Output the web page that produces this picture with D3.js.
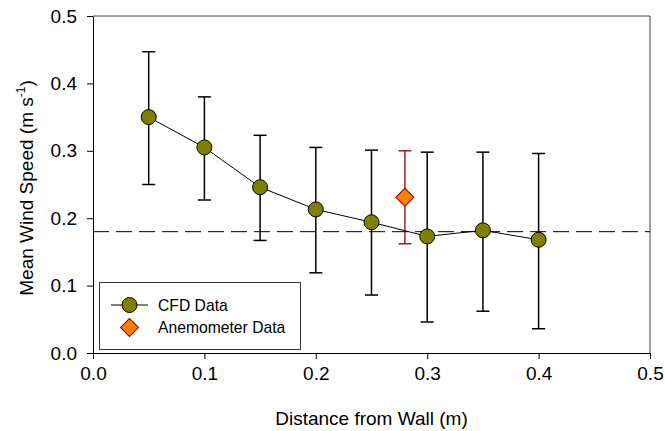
<!DOCTYPE html>
<html>
<head>
<meta charset="utf-8">
<script src="https://cdn.jsdelivr.net/npm/d3@7"></script>
<style>
  body { margin: 0; background: #fff; }
  text { font-family: "Liberation Sans", Arial, sans-serif; fill: #000; }
</style>
</head>
<body>
<div id="chart"></div>
<script>
// data
let arrDist = [0.05, 0.10, 0.15, 0.20, 0.25, 0.30, 0.35, 0.40];
let arrCfdMean = [0.350, 0.305, 0.246, 0.213, 0.194, 0.173, 0.182, 0.168];
let arrCfdHi = [0.447, 0.380, 0.323, 0.305, 0.301, 0.298, 0.298, 0.296];
let arrCfdLo = [0.250, 0.227, 0.167, 0.119, 0.086, 0.046, 0.062, 0.036];

let arrAnemDist = [0.28];
let arrAnemMean = [0.231];
let arrAnemHi = [0.300];
let arrAnemLo = [0.162];

let refLine = 0.18;

let arrXTicks = [0.0, 0.1, 0.2, 0.3, 0.4, 0.5];
let arrYTicks = [0.0, 0.1, 0.2, 0.3, 0.4, 0.5];
let arrLegend = ["CFD Data", "Anemometer Data"];

// SVG size
let width = 665;
let height = 431;

let margin = { top: 16, right: 15, bottom: 78, left: 93 };
let intActiveWid = width - margin.left - margin.right;
let intActiveHgt = height - margin.top - margin.bottom;

let svg = d3.select("#chart")
  .append("svg")
  .attr("width", width)
  .attr("height", height);

let g = svg.append("g")
  .attr("transform", `translate(${margin.left}, ${margin.top})`);

// scales
let fnX = d3.scaleLinear().domain([0, 0.5]).range([0, intActiveWid]);
let fnY = d3.scaleLinear().domain([0, 0.5]).range([intActiveHgt, 0]);

// frame (top and right)
g.append("path")
  .attr("d", `M0,0H${intActiveWid}V${intActiveHgt}`)
  .attr("fill", "none")
  .attr("stroke", "#444")
  .attr("stroke-width", 1);

// axes
let fnXAxis = d3.axisBottom(fnX).tickValues(arrXTicks).tickFormat(d3.format(".1f"))
  .tickSizeInner(6).tickSizeOuter(0).tickPadding(8);
let fnYAxis = d3.axisLeft(fnY).tickValues(arrYTicks).tickFormat(d3.format(".1f"))
  .tickSizeInner(6).tickSizeOuter(0).tickPadding(10);

let gX = g.append("g")
  .attr("transform", `translate(0, ${intActiveHgt})`)
  .call(fnXAxis);
let gY = g.append("g").call(fnYAxis);

[gX, gY].forEach(ax=>{
  ax.selectAll("text").attr("font-size", 19).attr("font-family", null);
  ax.selectAll("line, path").attr("stroke", "#000");
});

// dashed reference line
g.append("line")
  .attr("x1", 0)
  .attr("x2", intActiveWid)
  .attr("y1", fnY(refLine))
  .attr("y2", fnY(refLine))
  .attr("stroke", "#000")
  .attr("stroke-width", 1)
  .attr("stroke-dasharray", "16,7");

// build point objects
let arrCfd = arrDist.map((d, i)=>({ x: d, y: arrCfdMean[i], hi: arrCfdHi[i], lo: arrCfdLo[i] }));
let arrAnem = arrAnemDist.map((d, i)=>({ x: d, y: arrAnemMean[i], hi: arrAnemHi[i], lo: arrAnemLo[i] }));

// error bars with caps
function drawErr(data, color, w) {
  let gErr = g.append("g").attr("stroke", color).attr("stroke-width", w).attr("fill", "none");
  gErr.selectAll(".v").data(data).enter().append("line")
    .attr("x1", d=>fnX(d.x)).attr("x2", d=>fnX(d.x))
    .attr("y1", d=>fnY(d.hi)).attr("y2", d=>fnY(d.lo));
  gErr.selectAll(".ct").data(data).enter().append("line")
    .attr("x1", d=>fnX(d.x) - 6.5).attr("x2", d=>fnX(d.x) + 6.5)
    .attr("y1", d=>fnY(d.hi)).attr("y2", d=>fnY(d.hi));
  gErr.selectAll(".cb").data(data).enter().append("line")
    .attr("x1", d=>fnX(d.x) - 6.5).attr("x2", d=>fnX(d.x) + 6.5)
    .attr("y1", d=>fnY(d.lo)).attr("y2", d=>fnY(d.lo));
}

drawErr(arrCfd, "#000", 1.5);
drawErr(arrAnem, "#8b0000", 1.3);

// cfd line
g.append("path")
  .datum(arrCfd)
  .attr("d", d3.line().x(d=>fnX(d.x)).y(d=>fnY(d.y)))
  .attr("fill", "none")
  .attr("stroke", "#000")
  .attr("stroke-width", 1);

// cfd circles
g.selectAll(".cfd")
  .data(arrCfd)
  .enter()
  .append("circle")
  .attr("class", "cfd")
  .attr("cx", d=>fnX(d.x))
  .attr("cy", d=>fnY(d.y))
  .attr("r", 7.5)
  .attr("fill", "#808000")
  .attr("stroke", "#000")
  .attr("stroke-width", 1);

// anemometer diamond
let diamond = d3.symbol().type(d3.symbolSquare).size(162);
g.selectAll(".anem")
  .data(arrAnem)
  .enter()
  .append("path")
  .attr("class", "anem")
  .attr("d", diamond)
  .attr("transform", d=>`translate(${fnX(d.x)}, ${fnY(d.y)}) rotate(45)`)
  .attr("fill", "#ff8000")
  .attr("stroke", "#8b0000")
  .attr("stroke-width", 1);

// axis titles
svg.append("text")
  .attr("x", margin.left + intActiveWid / 2)
  .attr("y", 425)
  .attr("text-anchor", "middle")
  .attr("font-size", 19)
  .text("Distance from Wall (m)");

let yTitle = svg.append("text")
  .attr("transform", `translate(33, 188) rotate(-90)`)
  .attr("text-anchor", "middle")
  .attr("font-size", 19);
yTitle.append("tspan").text("Mean Wind Speed (m s");
yTitle.append("tspan").attr("font-size", 12).attr("dy", -8).text("-1");
yTitle.append("tspan").attr("dy", 8).text(")");

// legend
let lg = svg.append("g");
lg.append("rect")
  .attr("x", 99.5).attr("y", 282.5)
  .attr("width", 201).attr("height", 67)
  .attr("fill", "#fff")
  .attr("stroke", "#333")
  .attr("stroke-width", 1);

lg.append("line")
  .attr("x1", 111).attr("x2", 148)
  .attr("y1", 305).attr("y2", 305)
  .attr("stroke", "#000");
lg.append("circle")
  .attr("cx", 129.5).attr("cy", 305).attr("r", 7.5)
  .attr("fill", "#808000").attr("stroke", "#000");
lg.append("path")
  .attr("d", diamond)
  .attr("transform", "translate(129.5, 327.5) rotate(45)")
  .attr("fill", "#ff8000").attr("stroke", "#8b0000");

lg.selectAll(".lgtxt")
  .data(arrLegend)
  .enter()
  .append("text")
  .attr("class", "lgtxt")
  .attr("x", 158)
  .attr("y", (d, i)=>311 + i * 22.3)
  .attr("font-size", 15.7)
  .text(d=>d);
</script>
</body>
</html>
